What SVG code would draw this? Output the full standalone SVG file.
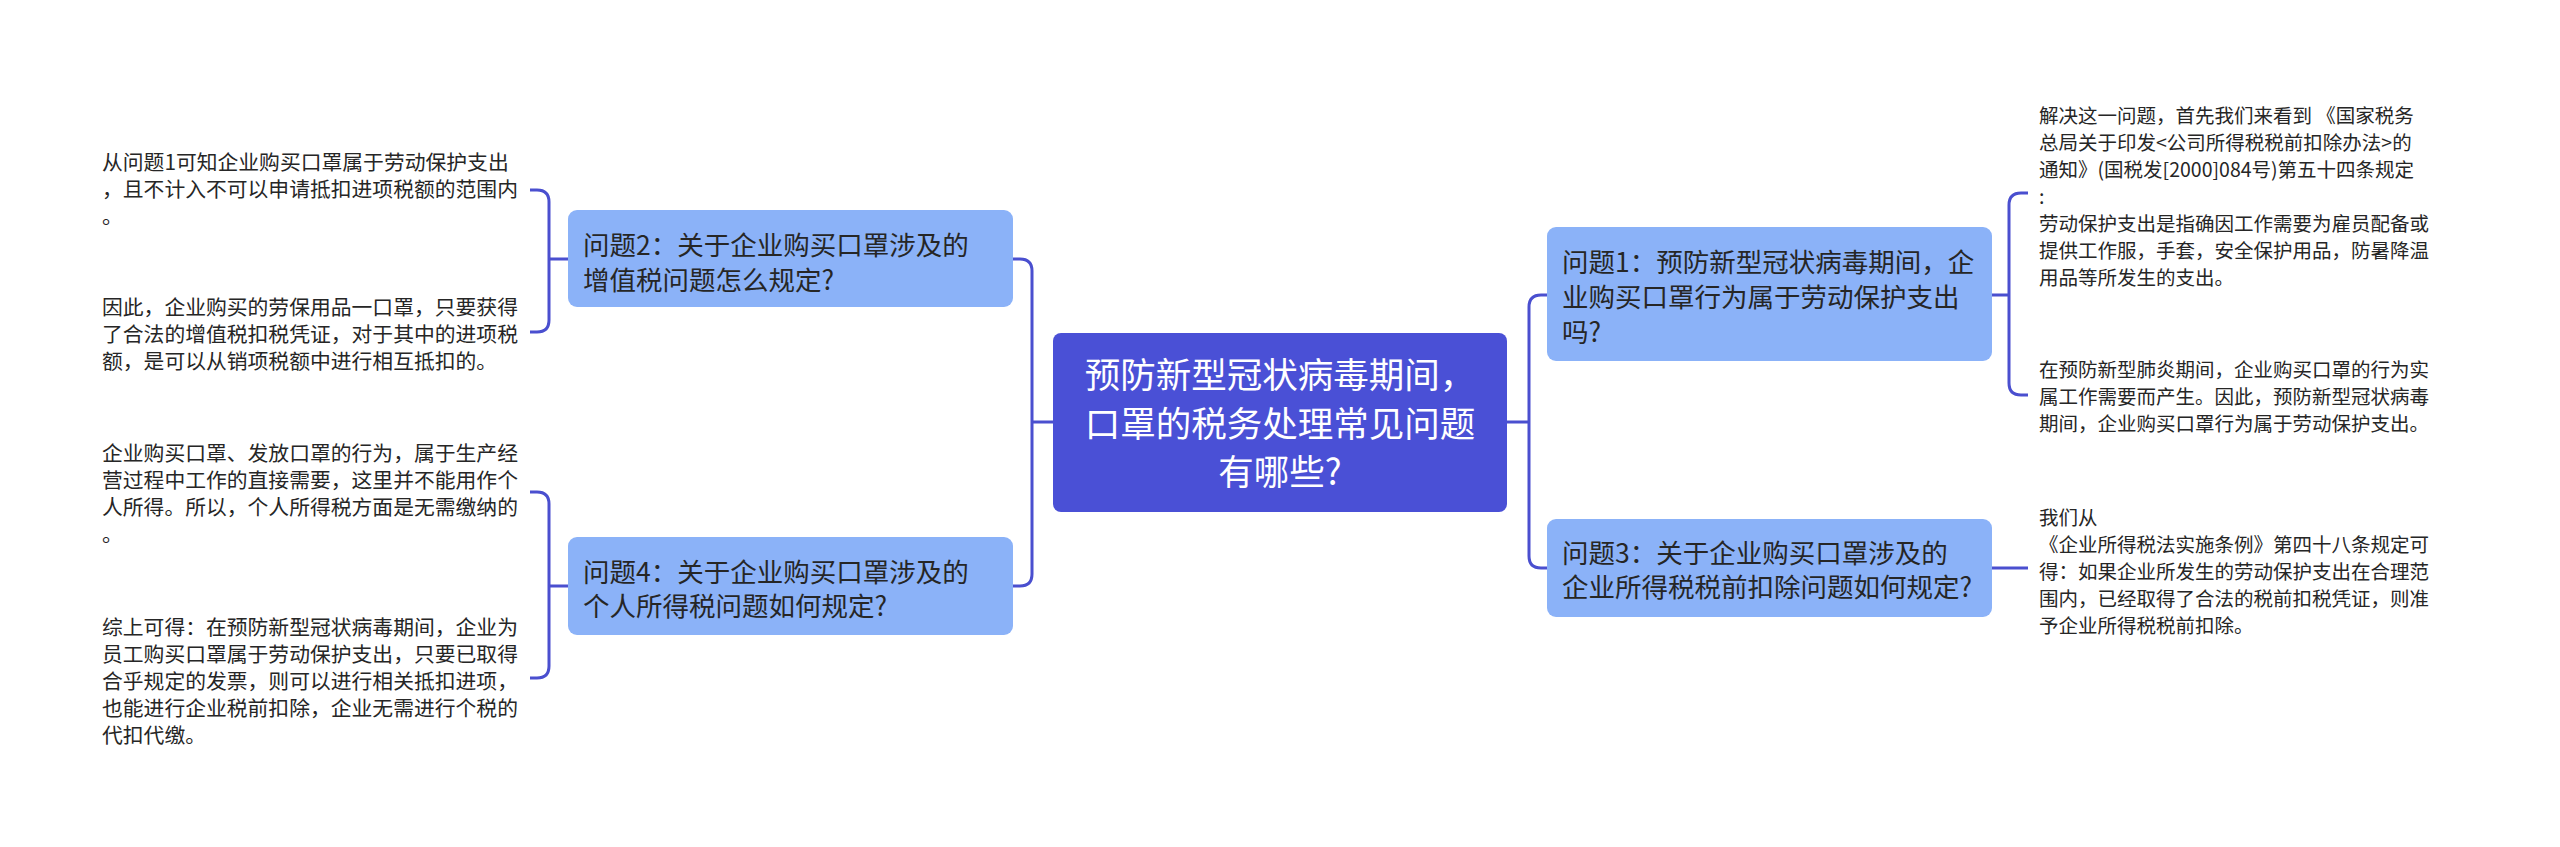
<svg xmlns="http://www.w3.org/2000/svg" width="2560" height="847" viewBox="0 0 2560 847">
<style>
.txt{font-family:"Noto Sans CJK SC","Noto Sans",sans-serif;fill:#262626}
.main{font-family:"Noto Sans CJK SC","Noto Sans",sans-serif;fill:#ffffff;font-size:35.5px;text-anchor:middle}
.q{font-size:26.5px}
.leafL{font-size:20.8px}
.leafR{font-size:19.5px}
.qbox{fill:#8bb2f8}
.conn{fill:none;stroke:#4a4fcf;stroke-width:3}
</style>
<rect width="2560" height="847" fill="#ffffff"/>
<g id="connectors">
<path class="conn" d="M1053 422 H1032 M1032 422 V271 Q1032 259 1020 259 H1013 M1032 422 V574 Q1032 586 1020 586 H1013"/>
<path class="conn" d="M1507 422 H1529 M1529 422 V307 Q1529 295 1541 295 H1547 M1529 422 V556 Q1529 568 1541 568 H1547"/>
<path class="conn" d="M1992 295 H2009 M2009 295 V205 Q2009 193 2021 193 H2028 M2009 295 V383 Q2009 395 2021 395 H2028"/>
<path class="conn" d="M1992 568 H2028"/>
<path class="conn" d="M568 259 H549 M549 259 V202 Q549 190 537 190 H530 M549 259 V320 Q549 332 537 332 H530"/>
<path class="conn" d="M568 586 H549 M549 586 V504 Q549 492 537 492 H530 M549 586 V666 Q549 678 537 678 H530"/>
</g>
<g id="center">
<rect x="1053" y="333" width="454" height="179" rx="8" fill="#4a50d6"/>
<text class="main"><tspan x="1280" y="388">预防新型冠状病毒期间，</tspan><tspan x="1280" y="436.5">口罩的税务处理常见问题</tspan><tspan x="1280" y="485">有哪些?</tspan></text>
</g>
<g id="q2">
<rect class="qbox" x="568" y="210" width="445" height="97" rx="9"/>
<text class="txt q"><tspan x="583" y="255">问题2：关于企业购买口罩涉及的</tspan><tspan x="583" y="290">增值税问题怎么规定?</tspan></text>
</g>
<g id="q4">
<rect class="qbox" x="568" y="537" width="445" height="98" rx="9"/>
<text class="txt q"><tspan x="583" y="582">问题4：关于企业购买口罩涉及的</tspan><tspan x="583" y="616">个人所得税问题如何规定?</tspan></text>
</g>
<g id="q1">
<rect class="qbox" x="1547" y="227" width="445" height="134" rx="9"/>
<text class="txt q"><tspan x="1562" y="272">问题1：预防新型冠状病毒期间，企</tspan><tspan x="1562" y="307">业购买口罩行为属于劳动保护支出</tspan><tspan x="1562" y="342">吗?</tspan></text>
</g>
<g id="q3">
<rect class="qbox" x="1547" y="519" width="445" height="98" rx="9"/>
<text class="txt q"><tspan x="1562" y="563">问题3：关于企业购买口罩涉及的</tspan><tspan x="1562" y="597">企业所得税税前扣除问题如何规定?</tspan></text>
</g>
<g id="leaf-q2-1">
<text class="txt leafL"><tspan x="102" y="170">从问题1可知企业购买口罩属于劳动保护支出</tspan><tspan x="102" y="197">，且不计入不可以申请抵扣进项税额的范围内</tspan><tspan x="102" y="224">。</tspan></text>
</g>
<g id="leaf-q2-2">
<text class="txt leafL"><tspan x="102" y="315">因此，企业购买的劳保用品一口罩，只要获得</tspan><tspan x="102" y="342">了合法的增值税扣税凭证，对于其中的进项税</tspan><tspan x="102" y="369">额，是可以从销项税额中进行相互抵扣的。</tspan></text>
</g>
<g id="leaf-q4-1">
<text class="txt leafL"><tspan x="102" y="461">企业购买口罩、发放口罩的行为，属于生产经</tspan><tspan x="102" y="488">营过程中工作的直接需要，这里并不能用作个</tspan><tspan x="102" y="515">人所得。所以，个人所得税方面是无需缴纳的</tspan><tspan x="102" y="542">。</tspan></text>
</g>
<g id="leaf-q4-2">
<text class="txt leafL"><tspan x="102" y="635">综上可得：在预防新型冠状病毒期间，企业为</tspan><tspan x="102" y="662">员工购买口罩属于劳动保护支出，只要已取得</tspan><tspan x="102" y="689">合乎规定的发票，则可以进行相关抵扣进项，</tspan><tspan x="102" y="716">也能进行企业税前扣除，企业无需进行个税的</tspan><tspan x="102" y="743">代扣代缴。</tspan></text>
</g>
<g id="leaf-q1-1">
<text class="txt leafR"><tspan x="2039" y="122.5">解决这一问题，首先我们来看到 《国家税务</tspan><tspan x="2039" y="149.5">总局关于印发&lt;公司所得税税前扣除办法&gt;的</tspan><tspan x="2039" y="176.5">通知》(国税发[2000]084号)第五十四条规定</tspan><tspan x="2039" y="203.5">:</tspan><tspan x="2039" y="230.5">劳动保护支出是指确因工作需要为雇员配备或</tspan><tspan x="2039" y="257.5">提供工作服，手套，安全保护用品，防暑降温</tspan><tspan x="2039" y="284.5">用品等所发生的支出。</tspan></text>
</g>
<g id="leaf-q1-2">
<text class="txt leafR"><tspan x="2039" y="376.5">在预防新型肺炎期间，企业购买口罩的行为实</tspan><tspan x="2039" y="403.5">属工作需要而产生。因此，预防新型冠状病毒</tspan><tspan x="2039" y="430.5">期间，企业购买口罩行为属于劳动保护支出。</tspan></text>
</g>
<g id="leaf-q3-1">
<text class="txt leafR"><tspan x="2039" y="524.5">我们从</tspan><tspan x="2039" y="551.5">《企业所得税法实施条例》第四十八条规定可</tspan><tspan x="2039" y="578.5">得：如果企业所发生的劳动保护支出在合理范</tspan><tspan x="2039" y="605.5">围内，已经取得了合法的税前扣税凭证，则准</tspan><tspan x="2039" y="632.5">予企业所得税税前扣除。</tspan></text>
</g>
</svg>
